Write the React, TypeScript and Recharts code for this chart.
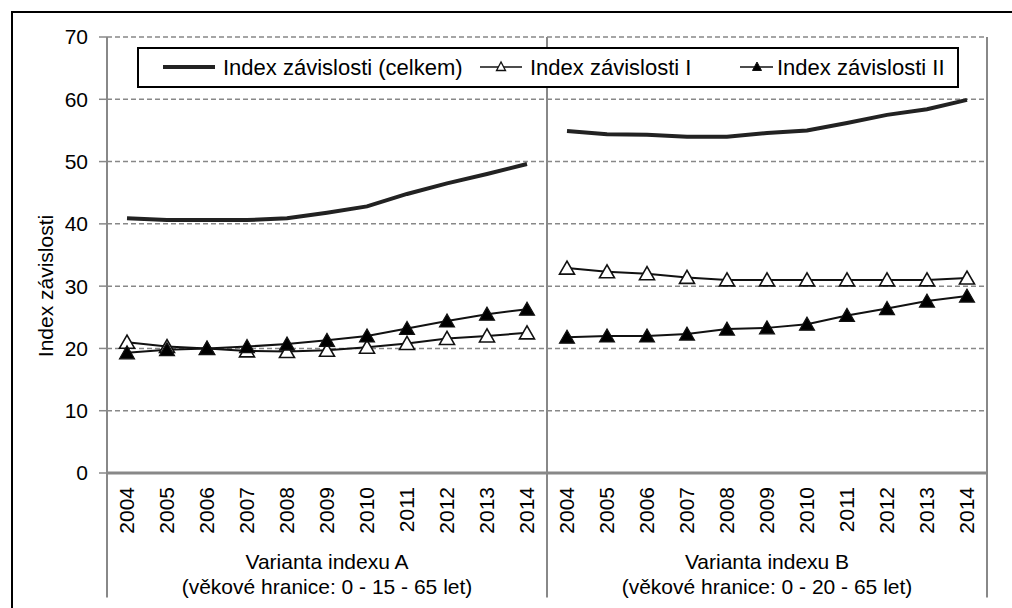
import React from 'react';
import {
  ComposedChart,
  Line,
  XAxis,
  YAxis,
  CartesianGrid,
  ReferenceLine,
} from 'recharts';

document.body.style.margin = '0';

const years = ['2004', '2005', '2006', '2007', '2008', '2009', '2010', '2011', '2012', '2013', '2014'];
const groups = ['A', 'B'];
const groupTitles = ['Varianta indexu A', 'Varianta indexu B'];
const groupSubtitles = ['(věkové hranice: 0 - 15 - 65 let)', '(věkové hranice: 0 - 20 - 65 let)'];
const yTicks = [0, 10, 20, 30, 40, 50, 60, 70];

const celkemA = [40.9, 40.6, 40.6, 40.6, 40.9, 41.8, 42.8, 44.8, 46.5, 48.0, 49.6];
const celkemB = [54.9, 54.4, 54.3, 54.0, 54.0, 54.6, 55.0, 56.2, 57.5, 58.4, 59.9];
const indexIA = [21.0, 20.3, 20.0, 19.6, 19.5, 19.7, 20.2, 20.8, 21.6, 22.0, 22.5];
const indexIB = [32.9, 32.3, 32.0, 31.4, 31.0, 31.0, 31.0, 31.0, 31.0, 31.0, 31.3];
const indexIIA = [19.3, 19.8, 20.0, 20.3, 20.7, 21.3, 22.0, 23.2, 24.4, 25.5, 26.3];
const indexIIB = [21.8, 22.0, 22.0, 22.3, 23.1, 23.3, 23.9, 25.3, 26.4, 27.6, 28.4];

const legendNames = ['Index závislosti (celkem)', 'Index závislosti I', 'Index závislosti II'];

// one row per category; each group gets its own series so the lines break between A and B
const data = groups.flatMap((g, gi) =>
  years.map((y, i) => ({
    cat: `${g}${y}`,
    year: y,
    group: gi,
    pos: i,
    cA: gi === 0 ? celkemA[i] : null,
    cB: gi === 1 ? celkemB[i] : null,
    iA: gi === 0 ? indexIA[i] : null,
    iB: gi === 1 ? indexIB[i] : null,
    iiA: gi === 0 ? indexIIA[i] : null,
    iiB: gi === 1 ? indexIIB[i] : null,
  }))
);

const FONT = '"Liberation Sans", Arial, sans-serif';
const GRID = '#888888';

const triPath = (cx: number, cy: number) =>
  `M${cx},${cy - 7} L${cx - 7.5},${cy + 6} L${cx + 7.5},${cy + 6} Z`;

const OpenTriangle = (props: any) => {
  const { cx, cy, index, dataKey } = props;
  if (cx == null || cy == null || props.value == null) return <g key={`${dataKey}-${index}`} />;
  return <path key={`${dataKey}-${index}`} d={triPath(cx, cy)} fill="#fff" stroke="#111" strokeWidth={1.6} />;
};

const FilledTriangle = (props: any) => {
  const { cx, cy, index, dataKey } = props;
  if (cx == null || cy == null || props.value == null) return <g key={`${dataKey}-${index}`} />;
  return <path key={`${dataKey}-${index}`} d={triPath(cx, cy)} fill="#000" stroke="#111" strokeWidth={1.2} />;
};

const YearTick = (props: any) => {
  const { x, y, payload, index } = props;
  const row = data[index];
  return (
    <g>
      <text
        transform={`translate(${x + 7},${y + 6}) rotate(-90)`}
        textAnchor="end"
        fontSize={21}
        fill="#000"
      >
        {row ? row.year : payload.value}
      </text>
      {row && row.pos === 5 && (
        <>
          <text x={x} y={y + 88} textAnchor="middle" fontSize={21} fill="#000">
            {groupTitles[row.group]}
          </text>
          <text x={x} y={y + 113} textAnchor="middle" fontSize={21} fill="#000">
            {groupSubtitles[row.group]}
          </text>
        </>
      )}
    </g>
  );
};

const YTitle = (props: any) => {
  const { viewBox } = props;
  const cx = viewBox.x + 45;
  const cy = viewBox.y + viewBox.height / 2 + 31;
  return (
    <text transform={`translate(${cx},${cy}) rotate(-90)`} textAnchor="middle" dominantBaseline="central" fontSize={21} fill="#000">
      Index závislosti
    </text>
  );
};

const separators: { cat: string; position: 'start' | 'end' }[] = [
  { cat: 'A2004', position: 'start' },
  { cat: 'A2014', position: 'end' },
  { cat: 'B2014', position: 'end' },
];

function LegendBox() {
  const text: React.CSSProperties = { position: 'absolute', top: 6, fontSize: 22, lineHeight: '26px', color: '#000', whiteSpace: 'nowrap' };
  return (
    <div
      style={{
        position: 'absolute',
        left: 137,
        top: 47,
        width: 822,
        height: 41,
        boxSizing: 'border-box',
        border: '2px solid #000',
        background: '#fff',
      }}
    >
      <svg width={818} height={37} style={{ position: 'absolute', left: 0, top: 0 }}>
        <line x1={24} x2={76} y1={18} y2={18} stroke="#222" strokeWidth={4} />
        <line x1={341} x2={383} y1={18} y2={18} stroke="#111" strokeWidth={1.5} />
        <path d={`M362,13 L357.5,21.5 L366.5,21.5 Z`} fill="#fff" stroke="#111" strokeWidth={1.3} />
        <line x1={601} x2={634} y1={18} y2={18} stroke="#111" strokeWidth={1.5} />
        <path d={`M618,13 L613.5,21.5 L622.5,21.5 Z`} fill="#000" stroke="#111" strokeWidth={1} />
      </svg>
      <span style={{ ...text, left: 84 }}>{legendNames[0]}</span>
      <span style={{ ...text, left: 391 }}>{legendNames[1]}</span>
      <span style={{ ...text, left: 638 }}>{legendNames[2]}</span>
    </div>
  );
}

export default function App() {
  return (
    <div style={{ position: 'relative', width: 1012, height: 608, overflow: 'hidden', background: '#fff', fontFamily: FONT }}>
      <div
        style={{
          position: 'absolute',
          left: 11,
          top: 11,
          width: 1100,
          height: 700,
          border: '2px solid #000',
        }}
      />
      <div style={{ position: 'absolute', left: 0, top: 0 }}>
        <ComposedChart
          width={1012}
          height={608}
          data={data}
          margin={{ top: 37, right: 25, left: 0, bottom: 0 }}
        >
          <CartesianGrid vertical={false} stroke={GRID} strokeDasharray="5 3" strokeWidth={1.5} />
          <XAxis
            dataKey="cat"
            scale="band"
            interval={0}
            height={135}
            tickLine={false}
            axisLine={{ stroke: GRID, strokeWidth: 3 }}
            tick={<YearTick />}
          />
          <YAxis
            width={107}
            domain={[0, 70]}
            ticks={yTicks}
            interval={0}
            tickSize={8}
            tickMargin={11}
            axisLine={{ stroke: GRID, strokeWidth: 2 }}
            tickLine={{ stroke: GRID, strokeWidth: 1.5 }}
            tick={{ fontSize: 21, fill: '#000' }}
            label={<YTitle />}
          />
          {separators.map((s) => (
            <ReferenceLine
              key={s.cat + s.position}
              segment={[
                { x: s.cat, y: 70 },
                { x: s.cat, y: -20 },
              ]}
              position={s.position}
              ifOverflow="visible"
              stroke={GRID}
              strokeWidth={2}
            />
          ))}
          <Line dataKey="cA" type="linear" stroke="#222" strokeWidth={4} dot={false} connectNulls={false} isAnimationActive={false} />
          <Line dataKey="cB" type="linear" stroke="#222" strokeWidth={4} dot={false} connectNulls={false} isAnimationActive={false} />
          <Line dataKey="iA" type="linear" stroke="#111" strokeWidth={2} dot={OpenTriangle} connectNulls={false} isAnimationActive={false} />
          <Line dataKey="iB" type="linear" stroke="#111" strokeWidth={2} dot={OpenTriangle} connectNulls={false} isAnimationActive={false} />
          <Line dataKey="iiA" type="linear" stroke="#111" strokeWidth={2} dot={FilledTriangle} connectNulls={false} isAnimationActive={false} />
          <Line dataKey="iiB" type="linear" stroke="#111" strokeWidth={2} dot={FilledTriangle} connectNulls={false} isAnimationActive={false} />
        </ComposedChart>
      </div>
      <LegendBox />
    </div>
  );
}
